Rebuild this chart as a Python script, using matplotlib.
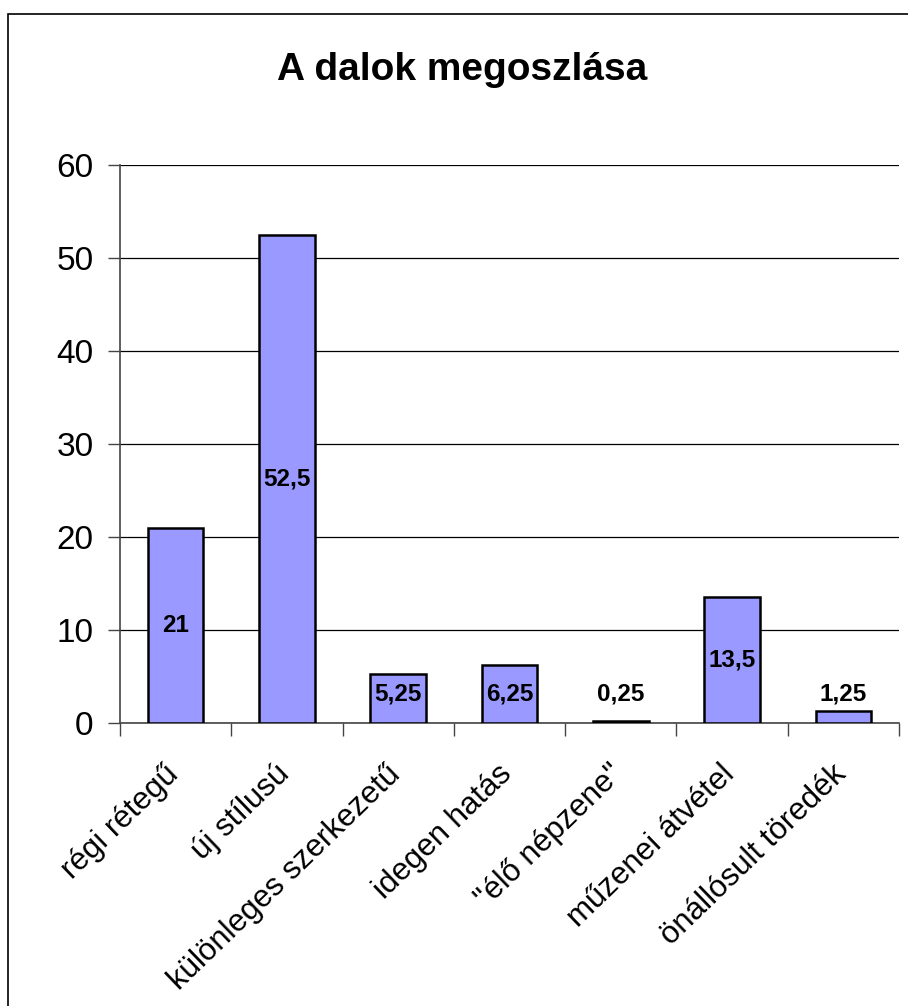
import matplotlib
matplotlib.use("Agg")
import matplotlib.pyplot as plt
import matplotlib.transforms as mtransforms
from matplotlib.patches import Rectangle
import numpy as np

categories = ["régi rétegű", "új stílusú", "különleges szerkezetű", "idegen hatás",
              "\"élő népzene\"", "műzenei átvétel", "önállósult töredék"]
values = [21, 52.5, 5.25, 6.25, 0.25, 13.5, 1.25]
value_labels = ["21", "52,5", "5,25", "6,25", "0,25", "13,5", "1,25"]
yticks = [0, 10, 20, 30, 40, 50, 60]

plt.rcParams['font.family'] = ['Liberation Sans', 'DejaVu Sans']

W, H = 908, 1006
fig = plt.figure(figsize=(W / 100, H / 100), dpi=100)
ax = fig.add_axes([120 / W, 1 - 723 / H, (899 - 120) / W, (723 - 165) / H])

x = np.arange(len(categories))
ax.bar(x, values, width=0.5, color="#9999FF", edgecolor="black", linewidth=1.8, zorder=3)

for xi, v, lab in zip(x, values, value_labels):
    ax.text(xi, max(v / 2, 3.1), lab, ha="center", va="center",
            fontsize=17.5, fontweight="bold", zorder=4)

ax.set_xlim(-0.5, len(categories) - 0.5)
ax.set_ylim(0, 60)
ax.set_yticks(yticks)
ax.set_yticklabels([str(t) for t in yticks], fontsize=24)
ax.yaxis.grid(True, color="black", linewidth=0.9, zorder=0)
ax.set_axisbelow(True)

ax.set_xticks(np.arange(len(categories) + 1) - 0.5)
ax.set_xticklabels([])
offset = mtransforms.ScaledTranslation(-12 / 100, -36 / 100, fig.dpi_scale_trans)
trans = ax.get_xaxis_transform() + offset
for xi, cat in zip(x, categories):
    ax.text(xi, 0, cat, transform=trans, rotation=44, ha="right", va="top",
            rotation_mode="anchor", fontsize=22.5, clip_on=False)
ax.tick_params(axis="x", which="major", length=9, width=1, color="#444444", direction="out")
ax.tick_params(axis="y", length=9, width=1, color="#444444", direction="out", pad=10)

for s in ["top", "right"]:
    ax.spines[s].set_visible(False)
for s in ["left", "bottom"]:
    ax.spines[s].set_color("#444444")
    ax.spines[s].set_linewidth(1.2)

fig.text(462 / W, 1 - 70 / H, "A dalok megoszlása", ha="center", va="center",
         fontsize=28, fontweight="bold")

fig.patches.append(Rectangle((8 / W, -0.1), 2, 1 - 14 / H + 0.1,
                             transform=fig.transFigure, fill=False,
                             edgecolor="black", linewidth=1.2))

fig.savefig("out.png", dpi=100)
